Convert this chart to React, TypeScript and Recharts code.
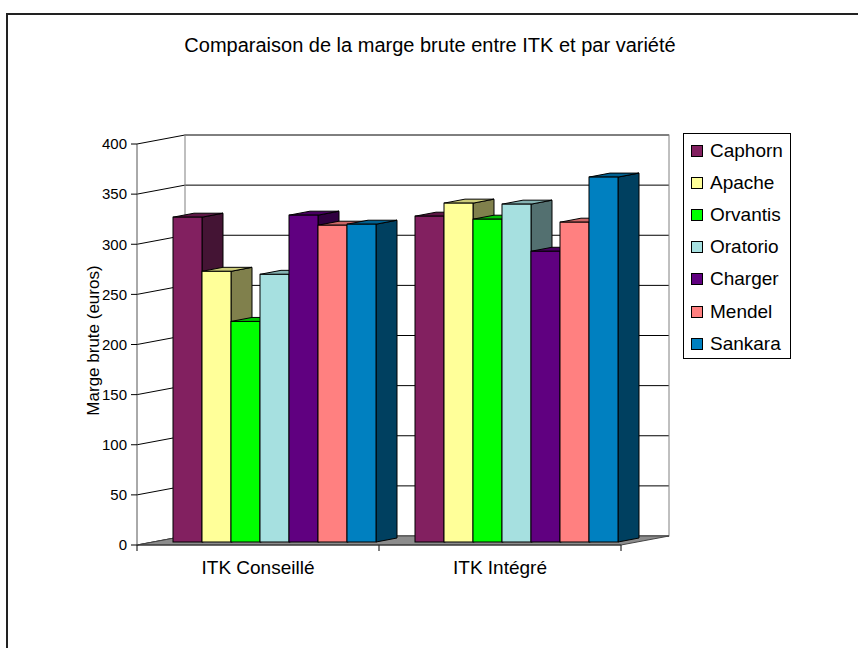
import React from 'react';
import {
  BarChart, Bar, XAxis, YAxis, CartesianGrid, ReferenceArea
} from 'recharts';

// data
const categories = ['ITK Conseillé', 'ITK Intégré'];
const caphorn = [324, 325];
const apache = [270, 338];
const orvantis = [220, 322];
const oratorio = [267, 337];
const charger = [326, 290];
const mendel = [316, 319];
const sankara = [317, 364];
const yTicks = [0, 50, 100, 150, 200, 250, 300, 350, 400];

const seriesNames = ['Caphorn', 'Apache', 'Orvantis', 'Oratorio', 'Charger', 'Mendel', 'Sankara'];
const seriesValues = [caphorn, apache, orvantis, oratorio, charger, mendel, sankara];

// front / top / side colours of each box
const seriesColors = [
  { front: '#822060', top: '#5e1746', side: '#441434' },
  { front: '#ffff99', top: '#cccc7a', side: '#80804c' },
  { front: '#00ff00', top: '#00c000', side: '#008000' },
  { front: '#a6e0e0', top: '#85b3b3', side: '#537070' },
  { front: '#600080', top: '#480060', side: '#300040' },
  { front: '#ff8080', top: '#cc6666', side: '#804040' },
  { front: '#0080c0', top: '#006090', side: '#004060' },
];

const chartData = categories.map((name, i) => {
  const row: any = { name };
  seriesNames.forEach((s, k) => { row[s] = seriesValues[k][i]; });
  return row;
});

// fake 3d: back wall offset and bar placement inside the depth
const WALL_DX = 48, WALL_DY = -9;
const BAR_DX = 15, BAR_DY = -3;
const DEPTH_DX = 21, DEPTH_DY = -4;

const FONT = '"Liberation Sans", Arial, sans-serif';
const FS = 19;

const Box3D = (props: any) => {
  const { x, y, width: w, height: h, colors } = props;
  if (!h || h <= 0) return null;
  const fx = x + BAR_DX;
  const fy = y + BAR_DY;
  const top = `${fx},${fy} ${fx + DEPTH_DX},${fy + DEPTH_DY} ${fx + w + DEPTH_DX},${fy + DEPTH_DY} ${fx + w},${fy}`;
  const side = `${fx + w},${fy} ${fx + w + DEPTH_DX},${fy + DEPTH_DY} ${fx + w + DEPTH_DX},${fy + h + DEPTH_DY} ${fx + w},${fy + h}`;
  return (
    <g>
      <polygon points={side} fill={colors.side} stroke="#000" strokeWidth={1} />
      <polygon points={top} fill={colors.top} stroke="#000" strokeWidth={1} />
      <rect x={fx} y={fy} width={w} height={h} fill={colors.front} stroke="#000" strokeWidth={1} />
    </g>
  );
};

const GridLine = (props: any) => {
  const { x1, x2, y1 } = props;
  return (
    <g>
      <line x1={x1} y1={y1} x2={x1 + WALL_DX} y2={y1 + WALL_DY} stroke="#000" strokeWidth={1} />
      <line x1={x1 + WALL_DX} y1={y1 + WALL_DY} x2={x2 + WALL_DX} y2={y1 + WALL_DY} stroke="#000" strokeWidth={1} />
    </g>
  );
};

// back wall outline, floor and the category boundary ticks
const Walls = (props: any) => {
  const { x, y, width, height } = props;
  const bx = x + WALL_DX, by = y + WALL_DY;
  const base = y + height;
  const floor = `${x},${base} ${x + width},${base} ${bx + width},${by + height} ${bx},${by + height}`;
  const step = width / categories.length;
  return (
    <g>
      <rect x={bx} y={by} width={width} height={height} fill="none" stroke="#808080" strokeWidth={1} />
      <polygon points={floor} fill="#8c8c8c" stroke="#444" strokeWidth={1} />
      {[0, 1, 2].map(i => (
        <line key={i} x1={x + i * step} y1={base} x2={x + i * step} y2={base + 6} stroke="#000" strokeWidth={1} />
      ))}
    </g>
  );
};

const Legend3D = () => (
  <div style={{
    position: 'absolute', left: 683, top: 133, width: 106, height: 224,
    border: '1px solid #000', background: '#fff', fontFamily: FONT, fontSize: FS,
  }}>
    {seriesNames.map((s, k) => (
      <div key={s} style={{ position: 'absolute', left: 7, top: 6 + k * 32.1, height: 22, display: 'flex', alignItems: 'center' }}>
        <span style={{ width: 10, height: 10, background: seriesColors[k].front, border: '1px solid #000', display: 'inline-block' }} />
        <span style={{ marginLeft: 7, color: '#000', lineHeight: '22px' }}>{s}</span>
      </div>
    ))}
  </div>
);

export default function App() {
  return (
    <div style={{ position: 'absolute', left: 0, top: 0, width: 858, height: 648, background: '#fff', fontFamily: FONT }}>
      <div style={{ position: 'absolute', left: 6, top: 13, width: 850, height: 633, borderLeft: '2px solid #222', borderTop: '2px solid #222' }} />
      <div style={{ position: 'absolute', left: 0, width: 860, top: 33, textAlign: 'center', fontSize: 20, lineHeight: '24px', color: '#000' }}>
        Comparaison de la marge brute entre ITK et par variété
      </div>
      <BarChart
        width={858}
        height={648}
        data={chartData}
        margin={{ top: 144, right: 237, bottom: 73, left: 77 }}
        barCategoryGap={21}
        barGap={0}
        style={{ position: 'absolute', left: 0, top: 0 }}
      >
        <CartesianGrid vertical={false} horizontal={(p: any) => <GridLine key={p.key} {...p} />} />
        <XAxis dataKey="name" axisLine={{ stroke: '#333' }} tickLine={false} height={30} tickMargin={10}
          tick={{ fontSize: FS, fill: '#000', fontFamily: FONT }} interval={0} />
        <YAxis domain={[0, 400]} ticks={yTicks} width={60} axisLine={{ stroke: '#555' }}
          tickLine={{ stroke: '#000' }} tickSize={6} tickMargin={4}
          tick={{ fontSize: 15, fill: '#000', fontFamily: FONT }}
          label={{ value: 'Marge brute (euros)', angle: -90, position: 'center', dx: -14, dy: -4, fontSize: 17, fill: '#000', fontFamily: FONT }} />
        <ReferenceArea y1={0} y2={400} ifOverflow="visible" shape={(p: any) => <Walls {...p} />} />
        {seriesNames.map((s, k) => (
          <Bar key={s} dataKey={s} name={s} fill={seriesColors[k].front} isAnimationActive={false}
            shape={(p: any) => <Box3D {...p} colors={seriesColors[k]} />} />
        ))}
      </BarChart>
      <Legend3D />
    </div>
  );
}
